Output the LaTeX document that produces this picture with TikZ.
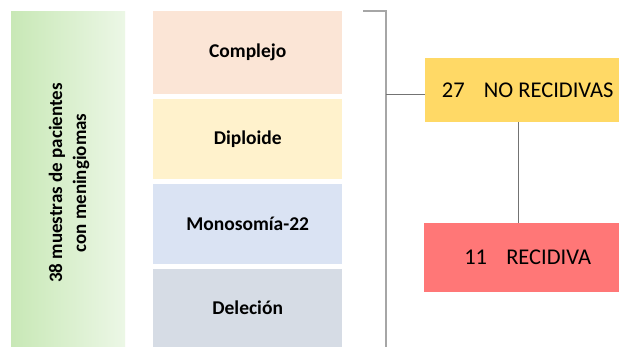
\documentclass[tikz,border=0pt]{standalone}
\usepackage{fontspec}
\setmainfont{Carlito}
\begin{document}
\begin{tikzpicture}[x=1pt,y=-1pt,
  catbox/.style={draw=none,inner sep=0pt,anchor=north west,minimum width=189pt,minimum height=80pt,font=\fontsize{19.5}{22}\selectfont\bfseries},
  resbox/.style={draw=none,inner sep=0pt,anchor=north west,font=\fontsize{22.5}{26}\selectfont},
  bar/.style={draw=black!35,line width=1.6pt},
  link/.style={draw=black!55,line width=0.9pt}]
\definecolor{cCompl}{HTML}{FBE5D6}
\definecolor{cDipl}{HTML}{FFF2CC}
\definecolor{cMono}{HTML}{DAE3F3}
\definecolor{cDel}{HTML}{D6DCE5}
\definecolor{cNo}{HTML}{FFD966}
\definecolor{cRec}{HTML}{FF7777}
\definecolor{gL}{HTML}{C8E8B6}
\definecolor{gR}{HTML}{ECF7E6}
\useasboundingbox (0,0) rectangle (619,347);
\fill[white] (0,0) rectangle (619,347);
\node[inner sep=0pt,anchor=north west,minimum width=114pt,minimum height=336pt,left color=gL,right color=gR,draw=none] (src) at (11,11) {};
\node[rotate=90,align=center,font=\fontsize{19}{24}\selectfont\bfseries] (srct) at (69,183) {38 muestras de pacientes\\con meningiomas};
\node[catbox,fill=cCompl,minimum height=83pt] (c1) at (153,11) {Complejo};
\node[catbox,fill=cDipl] (c2) at (153,99) {Diploide};
\node[catbox,fill=cMono] (c3) at (153,184) {Monosomía-22};
\node[catbox,fill=cDel,minimum height=78pt] (c4) at (153,269) {Deleción};
\node[resbox,fill=cNo,minimum width=194pt,minimum height=64pt] (no) at (425,58) {\hspace*{11pt}27\hspace{0.85em}NO RECIDIVAS};
\node[resbox,fill=cRec,minimum width=195pt,minimum height=69pt] (rec) at (424,223) {\hspace*{12pt}11\hspace{0.85em}RECIDIVA};
\coordinate (tick) at (363,11);
\coordinate (vt) at (386,11);
\coordinate (vb) at (386,347);
\coordinate (j) at (386,94);
\coordinate (xl) at (518,150);
\draw[bar] (tick) -- (vt) -- (vb);
\draw[link] (j) -- (j -| no.west);
\draw[link] (no.south -| xl) -- (rec.north -| xl);
\end{tikzpicture}
\end{document}
